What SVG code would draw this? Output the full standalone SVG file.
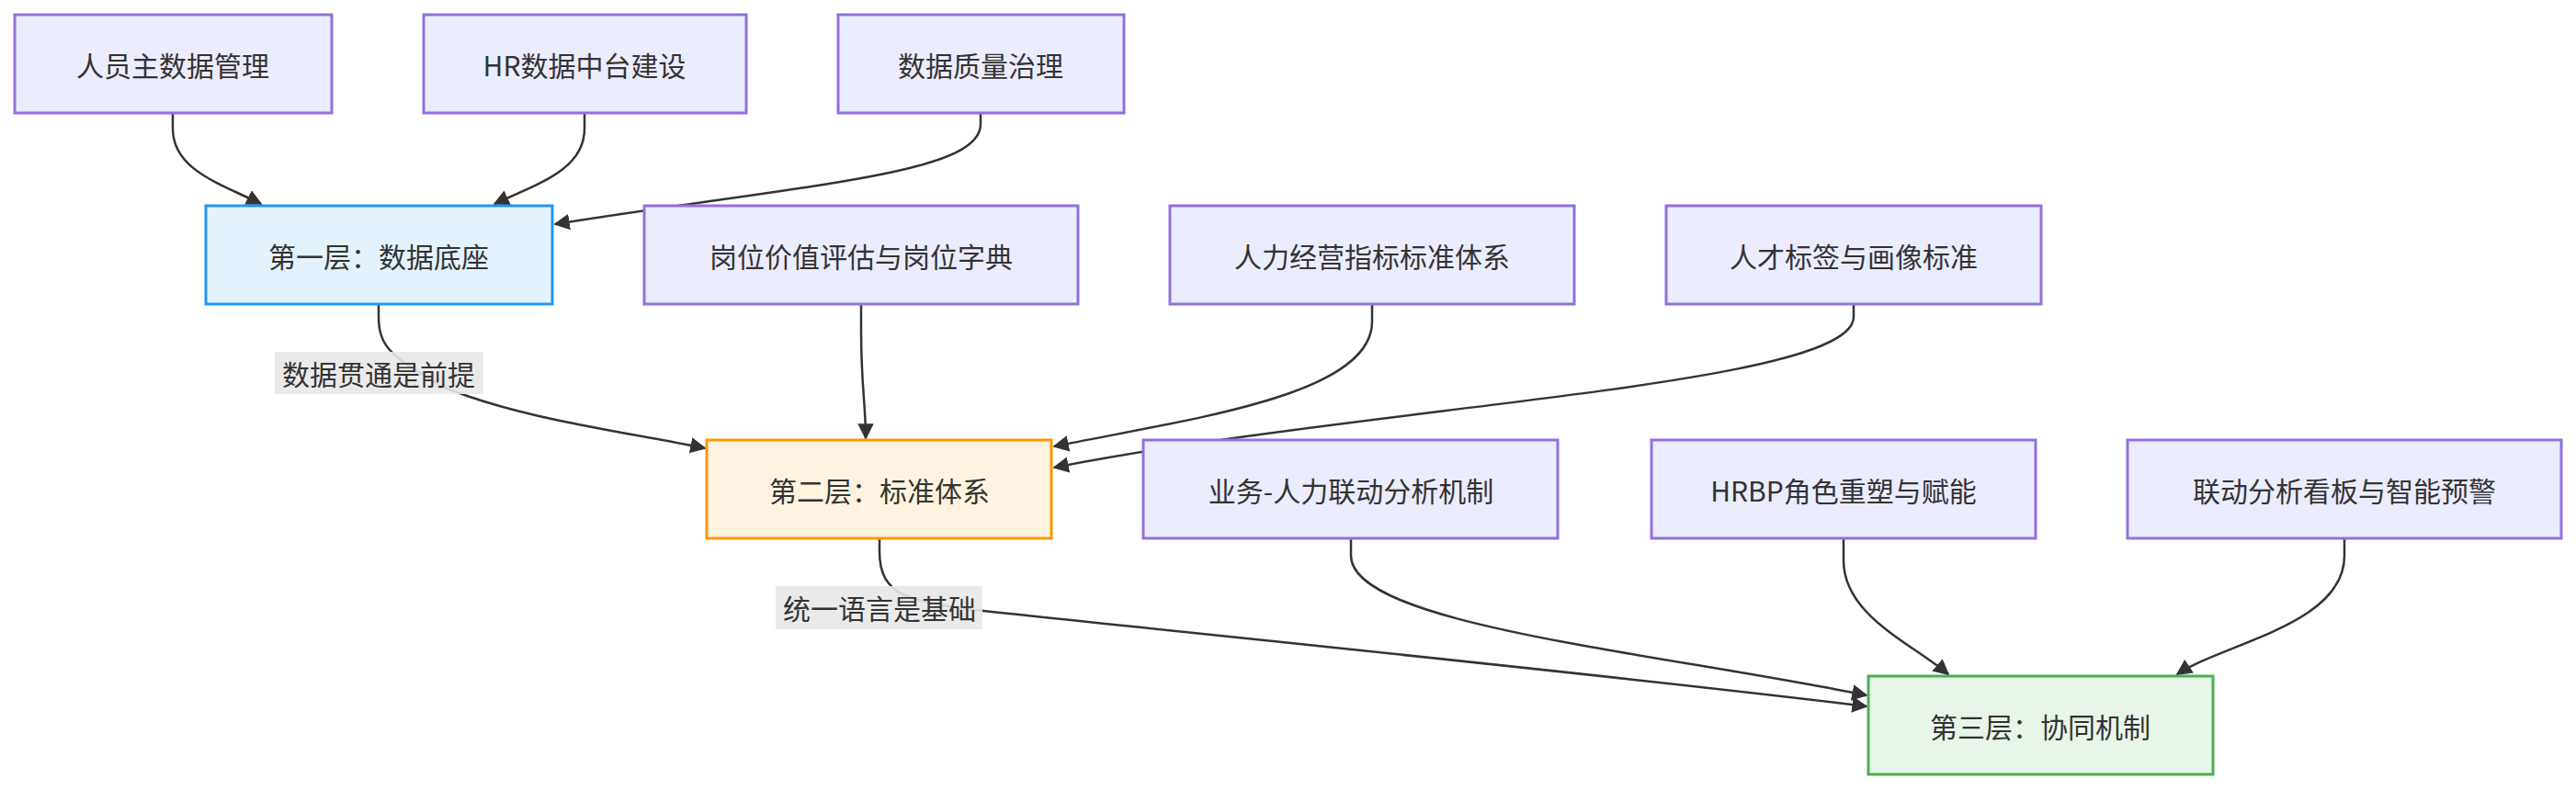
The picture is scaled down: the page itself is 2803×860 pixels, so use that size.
<svg xmlns="http://www.w3.org/2000/svg" width="2803" height="860" viewBox="0 0 2803 860">
<style>
.n rect{fill:#ECECFF;stroke:#9370DB;stroke-width:3}
.n text{font-family:"Noto Sans CJK SC","Liberation Sans",sans-serif;font-size:30px;fill:#333;text-anchor:middle;dominant-baseline:central}
#L1 rect{fill:#E3F2FD;stroke:#2196F3}
#L2 rect{fill:#FFF3E0;stroke:#FF9800}
#L3 rect{fill:#E8F5E9;stroke:#4CAF50}
.e path{fill:none;stroke:#333;stroke-width:2.5;marker-end:url(#arr)}
.lb rect{fill:#e8e8e8;opacity:0.9}
.lb text{font-family:"Noto Sans CJK SC","Liberation Sans",sans-serif;font-size:30px;fill:#333;text-anchor:middle;dominant-baseline:central}
</style>
<defs><marker id="arr" viewBox="0 0 10 10" refX="9" refY="5" markerWidth="7" markerHeight="7" orient="auto" markerUnits="strokeWidth"><path d="M0,0 L10,5 L0,10 z" fill="#333"/></marker></defs>
<g id="edges" class="e">
<path d="M188,123 L188,140 C188,185 240,200 284,222"/>
<path d="M636,123 L636,140 C636,185 585,200 538,222"/>
<path d="M1067,123 L1067,135 C1067,190 880,200 604,244"/>
<path d="M412,331 L412,345 C412,380 430,390 480,420 C560,455 680,470 767,488"/>
<path d="M937,331 L937,360 C937,420 942,440 942,477"/>
<path d="M1493,331 L1493,350 C1493,430 1300,455 1147,486"/>
<path d="M2017,331 L2017,345 C2017,420 1500,440 1147,509"/>
<path d="M957,586 L957,600 C957,650 990,655 1070,665 C1400,700 1800,740 2031,769"/>
<path d="M1470,586 L1470,605 C1470,680 1800,710 2031,757"/>
<path d="M2006,586 L2006,610 C2006,670 2080,700 2120,734"/>
<path d="M2551,586 L2551,605 C2551,680 2420,700 2369,734"/>
</g>
<g class="lb"><rect x="299" y="383" width="227" height="46"/><text x="412" y="406">数据贯通是前提</text></g>
<g class="lb"><rect x="844" y="638" width="225" height="47"/><text x="957" y="661">统一语言是基础</text></g>
<g id="A" class="n"><rect x="16" y="16" width="345" height="107"/><text x="188" y="70">人员主数据管理</text></g>
<g id="B" class="n"><rect x="461" y="16" width="351" height="107"/><text x="636" y="70">HR数据中台建设</text></g>
<g id="C" class="n"><rect x="912" y="16" width="311" height="107"/><text x="1067" y="70">数据质量治理</text></g>
<g id="L1" class="n"><rect x="224" y="224" width="377" height="107"/><text x="412" y="278">第一层：数据底座</text></g>
<g id="D" class="n"><rect x="701" y="224" width="472" height="107"/><text x="937" y="278">岗位价值评估与岗位字典</text></g>
<g id="E" class="n"><rect x="1273" y="224" width="440" height="107"/><text x="1493" y="278">人力经营指标标准体系</text></g>
<g id="F" class="n"><rect x="1813" y="224" width="408" height="107"/><text x="2017" y="278">人才标签与画像标准</text></g>
<g id="L2" class="n"><rect x="769" y="479" width="375" height="107"/><text x="957" y="533">第二层：标准体系</text></g>
<g id="G" class="n"><rect x="1244" y="479" width="451" height="107"/><text x="1470" y="533">业务-人力联动分析机制</text></g>
<g id="H" class="n"><rect x="1797" y="479" width="418" height="107"/><text x="2006" y="533">HRBP角色重塑与赋能</text></g>
<g id="I" class="n"><rect x="2315" y="479" width="472" height="107"/><text x="2551" y="533">联动分析看板与智能预警</text></g>
<g id="L3" class="n"><rect x="2033" y="736" width="375" height="107"/><text x="2220" y="790">第三层：协同机制</text></g>
</svg>
